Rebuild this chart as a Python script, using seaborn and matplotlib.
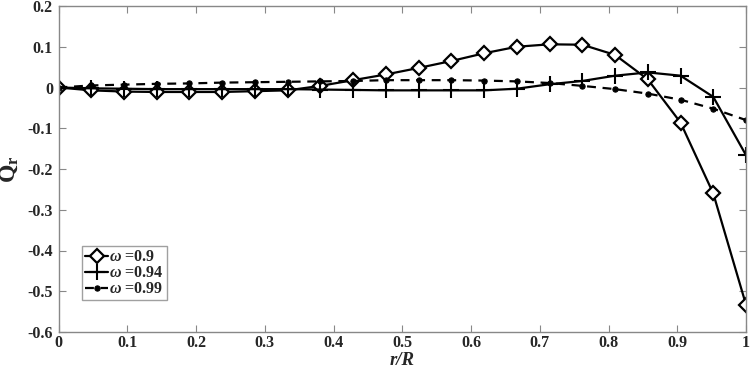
import numpy as np
import pandas as pd
import matplotlib
matplotlib.use("Agg")
import matplotlib.pyplot as plt
import seaborn as sns

r_over_R = [i / 21 for i in range(22)]
q_09 = [0.0, -0.007, -0.010, -0.011, -0.011, -0.011, -0.009, -0.007, 0.004, 0.018,
        0.032, 0.048, 0.065, 0.084, 0.100, 0.106, 0.105, 0.080, 0.020, -0.086, -0.260, -0.533]
q_094 = [0.0, -0.002, -0.003, -0.004, -0.004, -0.004, -0.004, -0.004, -0.005, -0.006,
         -0.007, -0.007, -0.007, -0.007, -0.003, 0.008, 0.016, 0.029, 0.037, 0.029, -0.023, -0.166]
q_099 = [0.0, 0.005, 0.007, 0.009, 0.010, 0.012, 0.013, 0.014, 0.015, 0.016,
         0.018, 0.018, 0.018, 0.017, 0.015, 0.011, 0.004, -0.004, -0.015, -0.030, -0.052, -0.080]
labels = [r"$\omega$ =0.9", r"$\omega$ =0.94", r"$\omega$ =0.99"]
xticks = [0, 0.1, 0.2, 0.3, 0.4, 0.5, 0.6, 0.7, 0.8, 0.9, 1]
xticklabels = ["0", "0.1", "0.2", "0.3", "0.4", "0.5", "0.6", "0.7", "0.8", "0.9", "1"]
yticks = [0.2, 0.1, 0, -0.1, -0.2, -0.3, -0.4, -0.5, -0.6]
yticklabels = ["0.2", "0.1", "0", "-0.1", "-0.2", "-0.3", "-0.4", "-0.5", "-0.6"]

df = pd.DataFrame({
    "x": r_over_R * 3,
    "Q": q_09 + q_094 + q_099,
    "series": [labels[0]] * 22 + [labels[1]] * 22 + [labels[2]] * 22,
})

sns.set_style("white")
plt.rcParams["font.family"] = ["Liberation Serif", "DejaVu Serif"]
plt.rcParams["font.weight"] = "bold"
plt.rcParams["mathtext.fontset"] = "custom"
plt.rcParams["mathtext.rm"] = "Liberation Serif"
plt.rcParams["mathtext.it"] = "Liberation Serif:italic"
plt.rcParams["mathtext.bf"] = "Liberation Serif:bold"

fig = plt.figure(figsize=(7.54, 3.71), dpi=100)
ax = fig.add_axes([58.5 / 754, 1 - 332 / 371, (746 - 58.5) / 754, (332 - 6) / 371])

styles = [
    dict(marker="D", markersize=7.5, markerfacecolor="white", markeredgecolor="black",
         markeredgewidth=1.6, linestyle="-"),
    dict(marker="+", markersize=11, markeredgecolor="black", markeredgewidth=1.5, linestyle="-"),
    dict(marker="o", markersize=3.8, markerfacecolor="black", markeredgecolor="black",
         linestyle=(0, (4, 3))),
]
for lab, st in zip(labels, styles):
    sub = df[df["series"] == lab]
    sns.lineplot(data=sub, x="x", y="Q", ax=ax, color="black", linewidth=1.6,
                 label=lab, estimator=None, sort=False, **st)

ax.set_xlim(0, 1)
ax.set_ylim(-0.6, 0.2)
ax.set_xticks(xticks)
ax.set_xticklabels(xticklabels, fontsize=11.5, fontweight="bold")
ax.set_yticks(yticks)
ax.set_yticklabels(yticklabels, fontsize=11.5, fontweight="bold")
ax.tick_params(direction="in", length=5, width=0.8, color="#888888",
               top=True, right=True, bottom=True, left=True, pad=4)
ax.tick_params(axis="x", pad=2.5)
for s in ax.spines.values():
    s.set_visible(True)
    s.set_color("#888888")
    s.set_linewidth(1.0)

ax.set_xlabel("r/R", fontsize=13.5, fontweight="bold", fontstyle="italic", labelpad=0.5)
ax.set_ylabel(r"$\mathbf{Q}_{\mathbf{r}}$", fontsize=17, labelpad=5)

leg = ax.legend(loc="upper left", bbox_to_anchor=(0.034, 0.264), handlelength=1.45,
                handletextpad=0.05, borderpad=0.2, labelspacing=0.0, fancybox=False,
                frameon=True, prop={"family": "Liberation Serif", "weight": "bold", "size": 11.5},
                borderaxespad=0)
leg.get_frame().set_edgecolor("#888888")
leg.get_frame().set_linewidth(1.0)

fig.savefig("out.png", dpi=100)
